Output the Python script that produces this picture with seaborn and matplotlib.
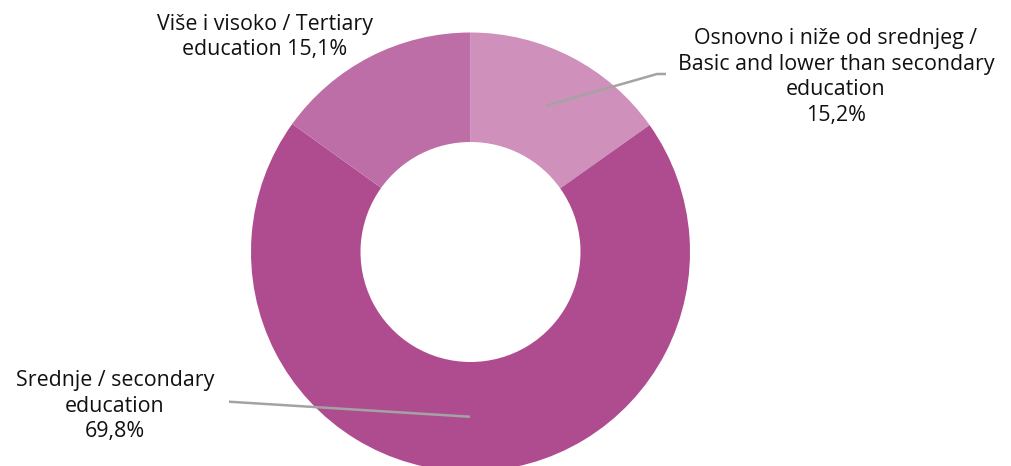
import numpy as np
import matplotlib
matplotlib.use("Agg")
import matplotlib.pyplot as plt
import seaborn as sns

categories = ["Osnovno i niže od srednjeg /\nBasic and lower than secondary\neducation",
              "Srednje / secondary\neducation",
              "Više i visoko / Tertiary\neducation"]
values = [15.2, 69.8, 15.1]
value_labels = ["15,2%", "69,8%", "15,1%"]
colors = ["#CF91BC", "#AF4C8F", "#BE6EA6"]

sns.set_theme(style="white")
plt.rcParams['font.family'] = ['Open Sans', 'DejaVu Sans']

W, H = 1011, 466
fig = plt.figure(figsize=(W / 100, H / 100), dpi=100)
ax = fig.add_axes([0, 0, 1, 1])

cx, cy = 470.5, H - 252
R = 219.5
r_in = 110
wedges, _ = ax.pie(values, colors=colors, startangle=90, counterclock=False,
                   radius=R, center=(cx, cy), frame=True,
                   wedgeprops=dict(width=R - r_in, linewidth=0))
ax.set_xlim(0, W)
ax.set_ylim(0, H)
ax.set_aspect('equal')
ax.axis('off')

rmid = (R + r_in) / 2
fs = 15.4
ls = 1.3
line_col = "#A3A3A3"
txt_col = "#111111"

def mid_point(i):
    w = wedges[i]
    a = np.deg2rad((w.theta1 + w.theta2) / 2)
    return cx + rmid * np.cos(a), cy + rmid * np.sin(a)

# Osnovno label
x0, y0 = mid_point(0)
ax.plot([x0, 657, 666], [y0, H - 74, H - 74], color=line_col, lw=1.8, solid_capstyle='butt')
ax.text(836, H - 77, categories[0] + "\n" + value_labels[0], ha='center', va='center',
        fontsize=fs, linespacing=ls, color=txt_col)

# Secondary label
x1, y1 = mid_point(1)
ax.plot([x1, 229], [y1, H - 401.7], color=line_col, lw=1.8, solid_capstyle='butt')
ax.text(115, H - 406, categories[1] + "\n" + value_labels[1], ha='center', va='center',
        fontsize=fs, linespacing=ls, color=txt_col)

# Tertiary label
ax.text(265, H - 37, categories[2] + " " + value_labels[2], ha='center', va='center',
        fontsize=fs, linespacing=ls, color=txt_col)

fig.savefig("out.png", dpi=100)
